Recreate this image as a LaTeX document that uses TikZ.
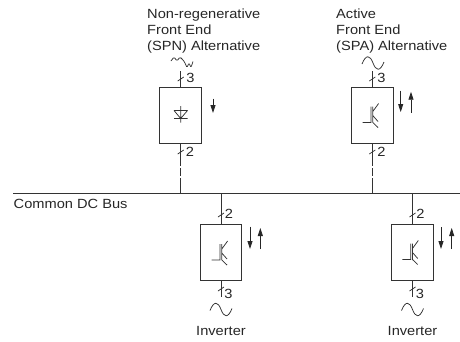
\documentclass[tikz,border=0pt]{standalone}
\usepackage{fontspec}
\setmainfont[FakeStretch=1.1]{Liberation Sans}
\usetikzlibrary{arrows.meta}
\tikzset{
  lab/.style={inner sep=0pt,font=\fontsize{13.3}{16.2}\selectfont,text=black!85},
  conv/.style={draw=black!80,line width=1pt,minimum width=41.5pt,minimum height=56pt,inner sep=0pt},
  wire/.style={draw=black!80,line width=1pt},
  thin part/.style={draw=black!80,line width=0.75pt},
  flow/.style={draw=black!85,line width=0.8pt,-{Triangle[length=8pt,width=5pt]}}
}
\newcommand{\igbt}[1]{%
  \begin{scope}[shift={(#1)}]
    \draw[thin part] (-8.4,16)--(0,16)--(0,0) (1.8,0)--(1.8,16)
      (1.8,5)--(7.6,-3) (1.8,9)--(7,15) (1.8,16)--(7,21);
  \end{scope}}
\newcommand{\sine}[1]{%
  \draw[thin part,shift={(#1)}] (-11,1) .. controls (-7,-9) and (-3,-8) .. (0,0) .. controls (3,8) and (7,9) .. (11,-1);}
\newcommand{\tick}[1]{\draw[thin part,shift={(#1)}] (-3,2)--(3,-2);}
\begin{document}
\begin{tikzpicture}[x=1pt,y=-1pt]
\useasboundingbox (0,0) rectangle (460,341);
% bus
\coordinate (busL) at (13.3,193.3);
\coordinate (busR) at (460,193.3);
\draw[wire] (busL)--(busR);
\node[lab,anchor=base west] (bus) at (13.5,208.3) {Common DC Bus};
% converters
\node[conv] (spn) at (180.7,115.8) {};
\node[conv] (spa) at (372.3,115.8) {};
\node[conv] (inv1) at (221,252) {};
\node[conv] (inv2) at (412.5,252) {};
% connectors
\coordinate (spnT) at (180.7,71);
\coordinate (spaT) at (372.3,71);
\coordinate (spnB) at (180.7,193.3);
\coordinate (spaB) at (372.3,193.3);
\coordinate (inv1T) at (221,193.3);
\coordinate (inv2T) at (412.5,193.3);
\coordinate (inv1B) at (221,297);
\coordinate (inv2B) at (412.5,297);
\draw[wire] (spnT)--(spn.north);
\draw[wire] (spaT)--(spa.north);
\draw[wire,dash pattern=on 22pt off 2pt on 8pt off 2pt on 30pt] (spn.south)--(spnB);
\draw[wire,dash pattern=on 22pt off 2pt on 8pt off 2pt on 30pt] (spa.south)--(spaB);
\draw[wire] (inv1T)--(inv1.north);
\draw[wire] (inv2T)--(inv2.north);
\draw[wire] (inv1.south)--(inv1B);
\draw[wire] (inv2.south)--(inv2B);
% ticks
\tick{180.7,79} \tick{372.3,79}
\tick{180.7,152} \tick{372.3,152}
\tick{221,215} \tick{412.5,215}
\tick{221,289} \tick{412.5,289}
% numbers
\node[lab] (n1) at (190.5,78) {3};
\node[lab] (n2) at (381.5,78) {3};
\node[lab] (n3) at (190,152) {2};
\node[lab] (n4) at (381.5,152) {2};
\node[lab] (n5) at (229,214) {2};
\node[lab] (n6) at (420.5,213.5) {2};
\node[lab] (n7) at (228.5,294) {3};
\node[lab] (n8) at (420,294) {3};
% source symbols
\draw[thin part,rounded corners=1.2pt] (171,61)--(174,57)--(177,61)--(180,57)--(183,60)--(184.5,62)--(187,67.5)--(189,63)--(191,67.5)--(193,61.5);
\sine{373,63}
\sine{221,309.5}
\sine{412.5,309.5}
% diode symbol
\draw[thin part] (180.7,106)--(180.7,122.5) (174,110.5)--(187.5,110.5) (174,118.5)--(187.5,118.5) (174,110.5)--(180.7,118.5)--(187.5,110.5);
% igbt
\igbt{220,244}
\igbt{410.7,243.5}
\igbt{371,106.5}
% direction arrows
\draw[flow] (213,98.7)--(213,113);
\draw[flow] (400.7,90.7)--(400.7,112);
\draw[flow] (411,112.7)--(411,91.7);
\draw[flow] (250,226.7)--(250,249);
\draw[flow] (260.3,249)--(260.3,228);
\draw[flow] (441,227)--(441,249);
\draw[flow] (451.7,249)--(451.7,228);
% text
\node[lab,anchor=north west,align=left] (t1) at (147,8.5) {Non-regenerative\\Front End\\(SPN) Alternative};
\node[lab,anchor=north west,align=left] (t2) at (336,8.5) {Active\\Front End\\(SPA) Alternative};
\node[lab] (i1) at (221,330.5) {Inverter};
\node[lab] (i2) at (412.5,330.5) {Inverter};
\end{tikzpicture}
\end{document}
